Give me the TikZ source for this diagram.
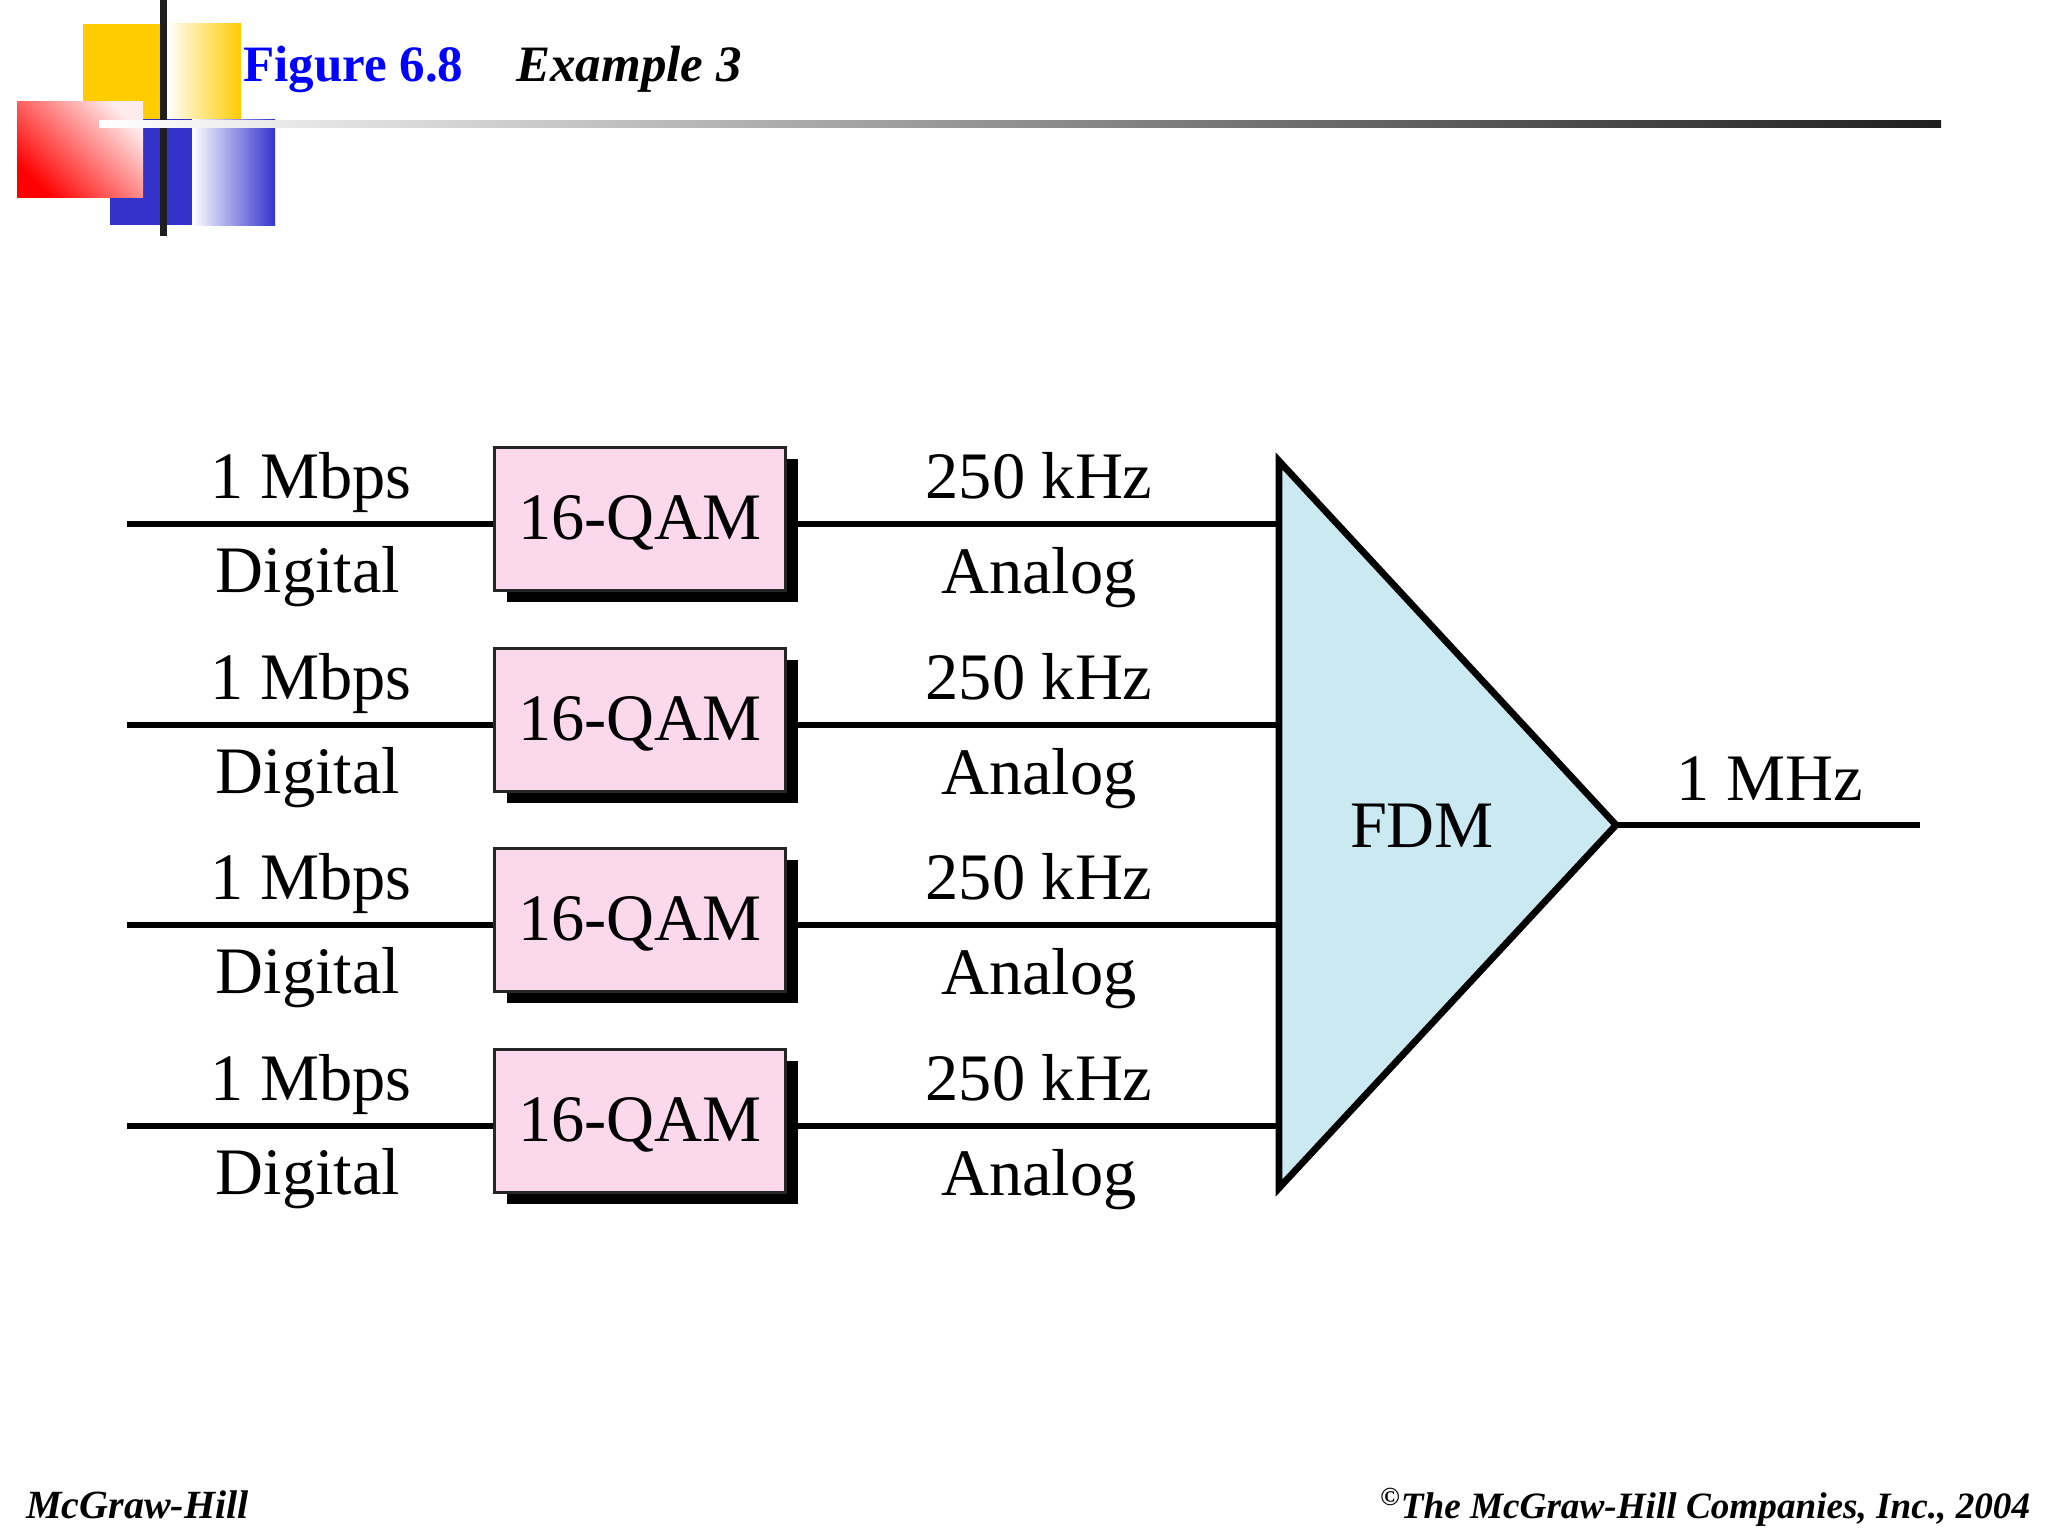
\documentclass[tikz,border=0pt]{standalone}
\usepackage{fontspec}
\usetikzlibrary{shadows}
\setmainfont{Liberation Serif}
\definecolor{qampink}{HTML}{FBD8EB}
\definecolor{fdmblue}{HTML}{CBE9F0}
\definecolor{decoyellow}{HTML}{FFCC00}
\definecolor{decoblue}{HTML}{3333CC}
\newcommand{\lbl}{\fontsize{33.2pt}{33.2pt}\selectfont}
\newcommand{\hd}{\fontsize{25.5pt}{25.5pt}\selectfont\bfseries}
\tikzset{
  wire/.style={draw=black,line width=2.6pt},
  lab/.style={anchor=base,inner sep=0pt,font=\lbl,text=black},
  qambox/.style={draw=black!85,line width=1.5pt,fill=qampink,minimum width=145.5pt,minimum height=71.5pt,
    inner sep=0pt,text height=22.5pt,text depth=1.5pt,font=\lbl,text=black,
    drop shadow={shadow xshift=6pt,shadow yshift=-6pt,fill=black,opacity=1}},
  foot/.style={anchor=base west,inner sep=0pt,text=black,font=\bfseries\itshape},
}
\begin{document}
\begin{tikzpicture}[x=0.5pt,y=-0.5pt]
\useasboundingbox (0,0) rectangle (2048,1536);
% decoration
\fill[decoyellow] (83,24) rectangle (160,119);
\shade[left color=white,right color=decoyellow] (166,24) rectangle (241,119);
\fill[decoblue] (110,119) rectangle (192,225);
\shade[left color=white,right color=decoblue] (192,119) rectangle (275,225);
\fill[black!88] (159.5,0) rectangle (166.5,236);
\shade[shading=axis,left color=red,right color=red!8!white,shading angle=135] (17,102) rectangle (143,197);
\shade[left color=white,right color=black!88] (99,120) rectangle (1941,127);
% title
\node[anchor=base west,inner sep=0pt,font=\hd,text=blue] (fig) at (243,82) {Figure 6.8};
\node[anchor=base west,inner sep=0pt,font=\hd\itshape] (ex) at (516,82) {Example 3};
% triangle corners
\coordinate (tt) at (1279,461);
\coordinate (tb) at (1279,1188);
\coordinate (ta) at (1616,825);
\coordinate (oe) at (1920,825);
\foreach \i/\y in {1/524,2/725,3/925,4/1126}{
  \coordinate (ls\i) at (127,\y);
  \coordinate (rs\i) at (1279,\y);
  \draw[wire] (ls\i) -- (494,\y);
  \draw[wire] (640,\y) -- (rs\i);
  \node[qambox] (q\i) at (640,\y-5.5) {16-QAM};
  \node[lab] (rate\i) at (311,\y-26) {1 Mbps};
  \node[lab] (dig\i) at (308,\y+68.5) {Digital};
  \node[lab] (khz\i) at (1039,\y-26) {250 kHz};
  \node[lab] (ana\i) at (1039,\y+69) {Analog};
}
\draw[wire] (ta) -- (oe);
\draw[fill=fdmblue,draw=black,line width=3.4pt,line join=miter] (tt) -- (ta) -- (tb) -- cycle;
\node[lab] (fdm) at (1422,847) {FDM};
\node[lab] (mhz) at (1770,800) {1 MHz};
% footer
\node[foot,font=\fontsize{20pt}{20pt}\selectfont\bfseries\itshape] (mh) at (26,1518) {McGraw-Hill};
\node[foot,font=\fontsize{18.6pt}{18.6pt}\selectfont\bfseries\itshape] (co) at (1380,1518) {\textsuperscript{\textcopyright}The McGraw-Hill Companies, Inc., 2004};
\end{tikzpicture}
\end{document}
